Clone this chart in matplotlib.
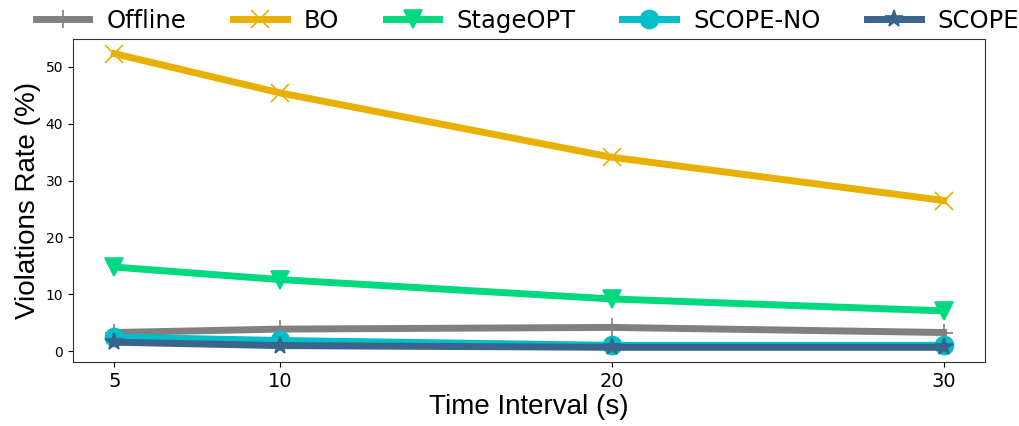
import matplotlib
matplotlib.use("Agg")
import matplotlib.pyplot as plt

x = [5, 10, 20, 30]
xticklabels = ["5", "10", "20", "30"]
offline = [3.3, 3.9, 4.2, 3.3]
bo = [52.3, 45.4, 34.1, 26.5]
stageopt = [14.8, 12.6, 9.2, 7.1]
scope_no = [2.5, 1.9, 1.05, 1.05]
scope = [1.6, 1.0, 0.7, 0.7]

series = [
    ("Offline", offline, "#808080", "+"),
    ("BO", bo, "#E8B000", "x"),
    ("StageOPT", stageopt, "#00D980", "v"),
    ("SCOPE-NO", scope_no, "#00BFC8", "o"),
    ("SCOPE", scope, "#3A648C", "*"),
]

fig = plt.figure(figsize=(10.19, 4.26), dpi=100)
ax = fig.add_axes([73/1019, 1-362/426, (985-73)/1019, (362-39)/426])
for name, vals, c, m in series:
    ax.plot(x, vals, color=c, marker=m, linewidth=5, markersize=13, label=name,
            markeredgewidth=1.2)

for sp in ax.spines.values():
    sp.set_color("#333333")
ax.set_xticks(x)
ax.set_xticklabels(xticklabels, fontsize=14)
ax.tick_params(axis='y', labelsize=10)
ax.set_xlabel("Time Interval (s)", fontsize=20, family="Liberation Sans", labelpad=2)
ax.set_ylabel("Violations Rate (%)", fontsize=20, family="Liberation Sans", labelpad=3)
fig.legend(loc="center left", bbox_to_anchor=(36/1019, 1-21/426), ncol=5, frameon=False,
           fontsize=17.5, handlelength=2.2, handletextpad=0.7, columnspacing=1.93,
           borderpad=0, borderaxespad=0)
fig.savefig("out.png", dpi=100)
